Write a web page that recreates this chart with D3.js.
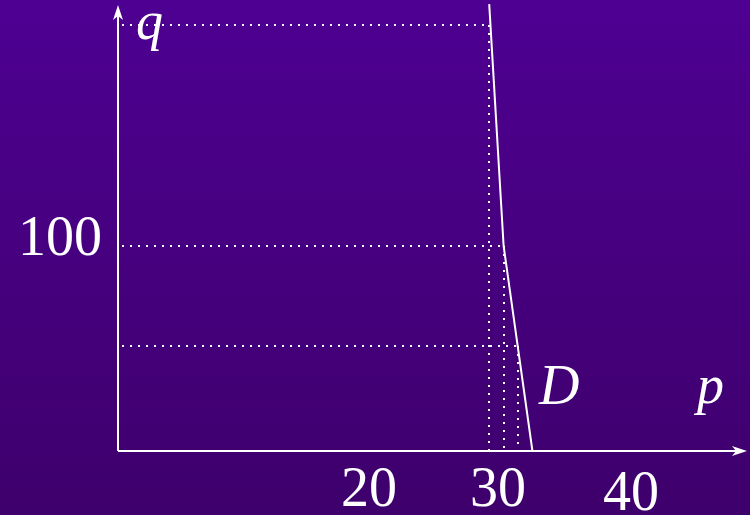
<!DOCTYPE html>
<html><head><meta charset="utf-8">
<script src="https://cdn.jsdelivr.net/npm/d3@7"></script>
<style>html,body{margin:0;padding:0;background:#46007e;}svg{display:block;}</style>
</head><body>
<script>
// Demand curve D (price p, quantity q)
const demandP = [29.1, 30.2, 32.4];
const demandQ = [218, 100, 0];
// Dotted guide lines (p, q) pairs
const guideP = [29.1, 30.2, 31.3];
const guideQ = [208, 100, 51];
// Tick labels
const xTickLabels = [20, 30, 40];
const yTickLabels = [100];

const W = 750, H = 515;
const svg = d3.select("body").append("svg").attr("width", W).attr("height", H);
const defs = svg.append("defs");
const grad = defs.append("linearGradient").attr("id","bg").attr("x1",0).attr("y1",0).attr("x2",0).attr("y2",1);
grad.append("stop").attr("offset","0%").attr("stop-color","#4e0092");
grad.append("stop").attr("offset","100%").attr("stop-color","#3e006c");
svg.append("rect").attr("width",W).attr("height",H).attr("fill","url(#bg)");

const x = d3.scaleLinear().domain([20,40]).range([370,632]);
const y = d3.scaleLinear().domain([0,100]).range([451,246]);
const ox = 118, oy = y(0);
const font = "'Liberation Serif','Times New Roman',serif";

// dotted guides
const g = svg.append("g").attr("stroke","#fff").attr("stroke-width",2).attr("stroke-dasharray","2,6").attr("fill","none").attr("shape-rendering","crispEdges");
guideP.forEach((p,i)=>{
  const px = Math.round(x(p)), py = Math.round(y(guideQ[i]));
  g.append("line").attr("x1",ox+4).attr("x2",px).attr("y1",py).attr("y2",py);
  g.append("line").attr("x1",px).attr("x2",px).attr("y1",py).attr("y2",oy);
});

// axes
const ax = svg.append("g").attr("stroke","#fff").attr("stroke-width",2);
ax.append("line").attr("x1",ox).attr("y1",oy).attr("x2",ox).attr("y2",10);
ax.append("line").attr("x1",ox).attr("y1",oy).attr("x2",742).attr("y2",oy);
svg.append("path").attr("fill","#fff")
  .attr("d",`M${ox},5 L${ox-5},20 L${ox},16 L${ox+5},20 Z`);
svg.append("path").attr("fill","#fff")
  .attr("d",`M747,${oy} L732,${oy-5} L736,${oy} L732,${oy+5} Z`);

// demand line
const line = d3.line().x((d,i)=>x(demandP[i])).y((d,i)=>y(demandQ[i]));
svg.append("path").datum(demandP).attr("d",line).attr("fill","none").attr("stroke","#fff").attr("stroke-width",2);

// labels
const xOffsets = [0,0,4];
svg.selectAll(".xl").data(xTickLabels).enter().append("text")
  .attr("x",(d,i)=>x(d)-1-(i===1?2:0)).attr("y",(d,i)=>506+xOffsets[i]).attr("text-anchor","middle")
  .attr("font-family",font).attr("font-size",56).attr("fill","#fff").text(d=>d);
svg.selectAll(".yl").data(yTickLabels).enter().append("text")
  .attr("x",102).attr("y",d=>y(d)+9).attr("text-anchor","end")
  .attr("font-family",font).attr("font-size",56).attr("fill","#fff").text(d=>d);
svg.append("text").attr("x",136).attr("y",39).attr("font-family",font).attr("font-style","italic")
  .attr("font-size",54).attr("fill","#fff").text("q");
svg.append("text").attr("x",697).attr("y",403).attr("font-family",font).attr("font-style","italic")
  .attr("font-size",54).attr("fill","#fff").text("p");
svg.append("text").attr("x",539).attr("y",404).attr("font-family",font).attr("font-style","italic")
  .attr("font-size",56).attr("fill","#fff").text("D");
</script>
</body></html>
